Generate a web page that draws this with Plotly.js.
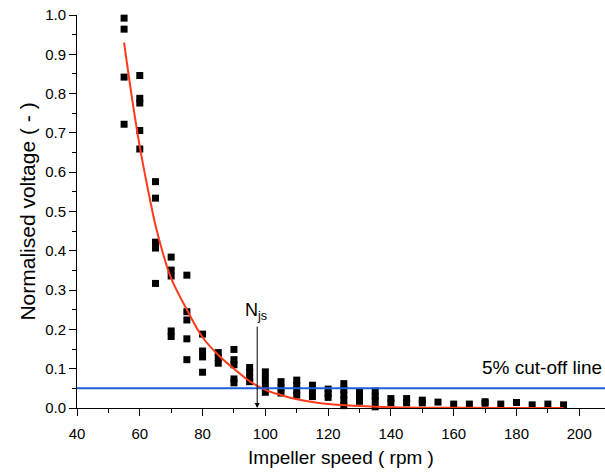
<!DOCTYPE html>
<html>
<head>
<meta charset="utf-8">
<script src="https://cdn.plot.ly/plotly-3.0.1.min.js"></script>
<style>
  html, body { margin: 0; padding: 0; background: #fff; }
  #chart { width: 605px; height: 474px; }
</style>
</head>
<body>
<div id="chart"></div>
<script>
// Impeller speed levels (rpm) and measured normalised voltages at each level
const speeds = [55, 60, 65, 70, 75, 80, 85, 90, 95, 100, 105, 110, 115, 120, 125, 130, 135,
                140, 145, 150, 155, 160, 165, 170, 175, 180, 185, 190, 195];
const voltages = [
  [0.992, 0.964, 0.842, 0.722],
  [0.846, 0.788, 0.776, 0.706, 0.659],
  [0.576, 0.534, 0.422, 0.407, 0.317],
  [0.384, 0.351, 0.336, 0.196, 0.182],
  [0.338, 0.245, 0.224, 0.176, 0.123],
  [0.188, 0.145, 0.130, 0.091],
  [0.141, 0.128, 0.114],
  [0.149, 0.123, 0.110, 0.074, 0.064],
  [0.103, 0.090, 0.078, 0.067],
  [0.092, 0.075, 0.058, 0.040],
  [0.067, 0.052, 0.038],
  [0.071, 0.058, 0.045, 0.033],
  [0.058, 0.044, 0.029],
  [0.048, 0.037, 0.027],
  [0.062, 0.047, 0.033, 0.020, 0.006],
  [0.041, 0.029, 0.017],
  [0.043, 0.030, 0.020, 0.003],
  [0.024, 0.013],
  [0.024, 0.013],
  [0.020, 0.013],
  [0.015],
  [0.010],
  [0.010],
  [0.016, 0.012],
  [0.010],
  [0.014],
  [0.008],
  [0.010],
  [0.008]
];

// Fitted decay curve
const fitSpeed   = [55, 57.5, 60, 62.5, 65, 67.5, 70, 75, 80, 85, 90, 95, 100, 105, 110, 115, 120, 130, 140, 160, 195];
const fitVoltage = [0.93, 0.79, 0.665, 0.56, 0.465, 0.39, 0.33, 0.25, 0.18, 0.135, 0.10, 0.068, 0.046, 0.033, 0.022, 0.015, 0.010, 0.005, 0.002, 0.0005, 0.0];

const cutoffLevel = 0.05;
const njsSpeed = 97.4;

const px = [], py = [];
speeds.forEach((s, i) => voltages[i].forEach(v => { px.push(s); py.push(v); }));

const FONT = 'Arial, "Liberation Sans", sans-serif';

const traces = [
  {
    x: px, y: py, type: 'scatter', mode: 'markers',
    marker: { symbol: 'square', size: 7, color: '#000000', line: { width: 0 } },
    cliponaxis: false, hoverinfo: 'skip'
  },
  {
    x: fitSpeed, y: fitVoltage, type: 'scatter', mode: 'lines',
    line: { color: '#ff3a1a', width: 2, shape: 'spline', smoothing: 1 },
    hoverinfo: 'skip'
  }
];

const layout = {
  width: 605, height: 474,
  margin: { l: 77, r: 0, t: 15, b: 66, pad: 0 },
  paper_bgcolor: '#ffffff', plot_bgcolor: '#ffffff',
  showlegend: false,
  font: { family: FONT, size: 15, color: '#000' },
  xaxis: {
    range: [40, 208.2], showgrid: false, zeroline: false,
    showline: true, linecolor: '#000', linewidth: 1,
    ticks: 'outside', ticklen: 7, tickwidth: 1, tickcolor: '#000',
    tick0: 40, dtick: 20, ticklabelstandoff: 5,
    minor: { ticks: 'outside', ticklen: 4, dtick: 10, tickcolor: '#000' },
    tickfont: { family: FONT, size: 15, color: '#000' },
    title: { text: 'Impeller speed ( rpm )', font: { family: FONT, size: 19, color: '#000' }, standoff: 9 }
  },
  yaxis: {
    range: [0, 1.0], showgrid: false, zeroline: false,
    showline: true, linecolor: '#000', linewidth: 1,
    ticks: 'outside', ticklen: 7, tickwidth: 1, tickcolor: '#000',
    tick0: 0, dtick: 0.1, tickformat: '.1f',
    minor: { ticks: 'outside', ticklen: 4, dtick: 0.05, tickcolor: '#000' },
    tickfont: { family: FONT, size: 15, color: '#000' },
    title: { text: 'Normalised voltage ( - )', font: { family: FONT, size: 21, color: '#000' }, standoff: 3 }
  },
  shapes: [
    { type: 'line', xref: 'paper', yref: 'y', x0: 0, x1: 1, y0: cutoffLevel, y1: cutoffLevel,
      line: { color: '#1f5fdc', width: 2 } }
  ],
  annotations: [
    { x: njsSpeed, y: 0, xref: 'x', yref: 'y', ax: njsSpeed, ay: 0.211, axref: 'x', ayref: 'y',
      text: '', showarrow: true, arrowhead: 2, arrowsize: 1, arrowwidth: 1, arrowcolor: '#000', standoff: 0 },
    { x: njsSpeed, y: 0.211, xref: 'x', yref: 'y', text: 'N<sub>js</sub>', showarrow: false,
      xanchor: 'center', yanchor: 'bottom', font: { family: FONT, size: 18, color: '#000' }, xshift: -1 },
    { x: 1, y: 0.104, xref: 'paper', yref: 'y', text: '5% cut-off line', showarrow: false,
      xanchor: 'right', yanchor: 'middle', xshift: -1, font: { family: FONT, size: 19, color: '#000' } }
  ]
};

Plotly.newPlot('chart', traces, layout, { staticPlot: true, displayModeBar: false });
</script>
</body>
</html>
